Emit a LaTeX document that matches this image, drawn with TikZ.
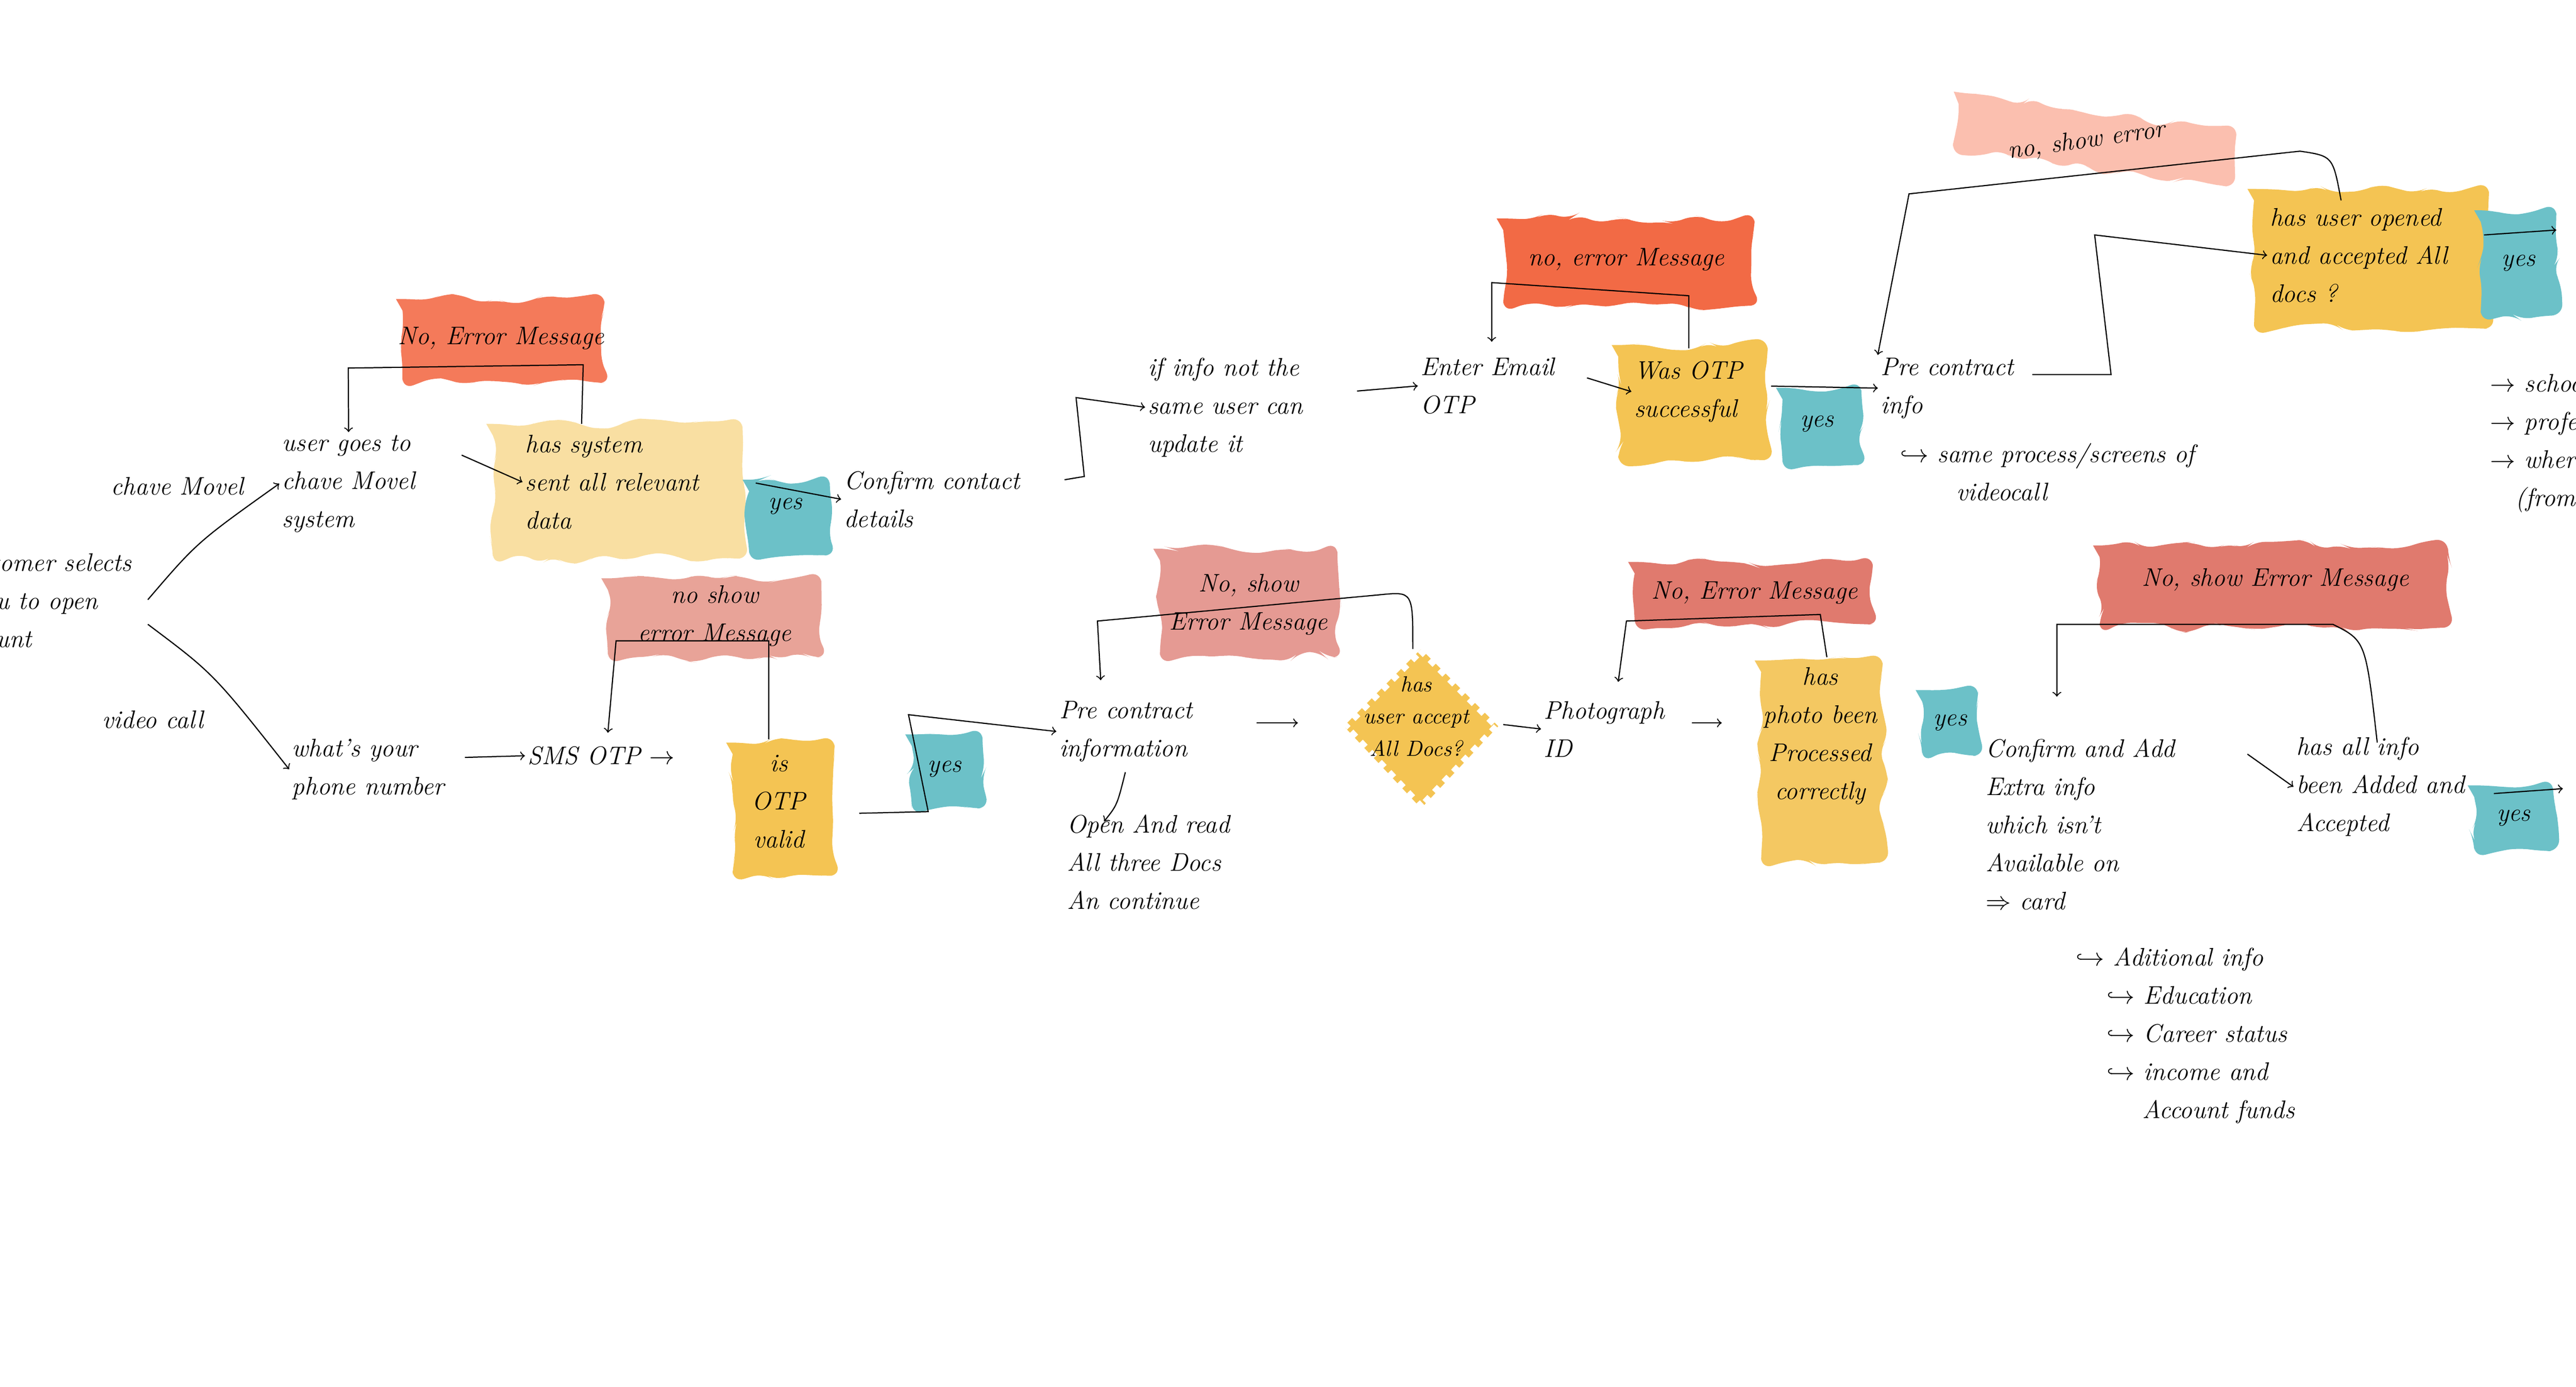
\documentclass[tikz,border=0pt]{standalone}
\usetikzlibrary{decorations.pathmorphing,shapes.geometric}
\definecolor{errOrange}{HTML}{F47A5A}
\definecolor{errRed}{HTML}{F26A45}
\definecolor{errPink}{HTML}{E8A398}
\definecolor{errRose}{HTML}{E59A93}
\definecolor{errCoral}{HTML}{E07A6E}
\definecolor{errPeach}{HTML}{FBBFAF}
\definecolor{askPale}{HTML}{F9DFA2}
\definecolor{askGold}{HTML}{F4C453}
\definecolor{askSand}{HTML}{F4C862}
\definecolor{yesTeal}{HTML}{6CC1C8}
\tikzset{
  txt/.style={align=left,inner sep=1pt,font=\itshape\fontsize{11}{16.5}\selectfont},
  blob/.style={decorate,decoration={random steps,segment length=7pt,amplitude=2.5pt},rounded corners=5pt},
  arr/.style={->,line width=0.5pt}
}
\pgfmathsetseed{7}
\begin{document}
\begin{tikzpicture}[x=0.25mm,y=-0.25mm,line width=0.5pt]
            \useasboundingbox (0,0) rectangle (1568,844);
            % colour patches
            \fill [errOrange,blob] (245,182) rectangle (368,233);
            \fill [askPale,blob] (300,258) rectangle (452,340);
            \fill [yesTeal,blob] (456,292) rectangle (505,338);
            \fill [errRed,blob] (915,133) rectangle (1068,186);
            \fill [askGold,blob] (985,210) rectangle (1076,280);
            \fill [yesTeal,blob] (1085,236) rectangle (1133,283);
            \fill [errPeach,blob,rotate around={-8:(1275,85)}] (1190,68) rectangle (1360,102);
            \fill [askGold,blob] (1372,115) rectangle (1515,200);
            \fill [yesTeal,blob] (1510,128) rectangle (1556,192);
            \fill [errPink,blob] (370,352) rectangle (500,400);
            \fill [askGold,blob] (446,452) rectangle (508,533);
            \fill [yesTeal,blob] (555,447) rectangle (598,492);
            \fill [errRose,blob] (706,334) rectangle (814,400);
            \fill [askGold,draw=white,line width=4pt,dashed] (865,395) -- (912,442) -- (865,492) -- (818,442) -- cycle;
            \fill [errCoral,blob] (995,342) rectangle (1140,380);
            \fill [askSand,blob] (1072,402) rectangle (1146,525);
            \fill [yesTeal,blob] (1170,420) rectangle (1204,460);
            \fill [errCoral,blob] (1278,332) rectangle (1490,382);
            \fill [yesTeal,blob] (1506,478) rectangle (1554,518);
            % top row
            \node [txt,anchor=north west] (start) at (-32,335) {Customer selects\\menu to open\\account};
            \node [txt] (chave) at (108,296) {chave Movel};
            \node [txt,anchor=north west] (userGoes) at (170,263) {user goes to\\chave Movel\\system};
            \node [txt,anchor=north west] (hasSys) at (318,263) {has system\\sent all relevant\\data};
            \node [txt] (err1) at (305,206) {No, Error Message};
            \node [txt] (yes1) at (478,308) {yes};
            \node [txt,anchor=north west] (confirm) at (512,285) {Confirm contact\\details};
            \node [txt,anchor=north west] (ifInfo) at (697,216) {if info not the\\same user can\\update it};
            \node [txt,anchor=north west] (email) at (863,216) {Enter Email\\OTP};
            \node [txt,anchor=north west] (wasOtp) at (993,218) {Was OTP\\successful};
            \node [txt] (err2) at (990,158) {no, error Message};
            \node [txt] (yes2) at (1106,258) {yes};
            \node [txt,anchor=north west] (preInfo) at (1143,216) {Pre contract\\info};
            \node [txt,anchor=north west] (sameProc) at (1155,268) {$\hookrightarrow$ same process/screens of\\\hspace{2.2em}videocall};
            \node [txt,rotate=8] (err3) at (1270,86) {no, show error};
            \node [txt,anchor=north west] (hasOpened) at (1380,125) {has user opened\\and accepted All\\docs ?};
            \node [txt] (yes3) at (1533,160) {yes};
            \node [txt,anchor=north west] (nextList) at (1514,226) {$\to$ school\\$\to$ profession\\$\to$ where\\\hspace{1em}(from};
            % bottom row
            \node [txt] (video) at (93,438) {video call};
            \node [txt,anchor=north west] (phone) at (176,448) {what's your\\phone number};
            \node [txt] (sms) at (366,460) {SMS OTP $\to$};
            \node [txt,align=center] (err4) at (435,375) {no show\\error Message};
            \node [txt,align=center] (otpValid) at (474,488) {is\\OTP\\valid};
            \node [txt] (yes4) at (575,468) {yes};
            \node [txt,anchor=north west] (preInfo2) at (643,425) {Pre contract\\information};
            \node [txt,anchor=north west] (openRead) at (648,494) {Open And read\\All three Docs\\An continue};
            \node [txt,align=center] (err5) at (760,368) {No, show\\Error Message};
            \node [txt,align=center,font=\itshape\fontsize{9.5}{14}\selectfont] (accept) at (862,436) {has\\user accept\\All Docs?};
            \node [txt,anchor=north west] (photo) at (938,425) {Photograph\\ID};
            \node [txt] (err6) at (1068,361) {No, Error Message};
            \node [txt,align=center] (processed) at (1108,448) {has\\photo been\\Processed\\correctly};
            \node [txt] (yes5) at (1187,440) {yes};
            \node [txt,anchor=north west] (addInfo) at (1207,448) {Confirm and Add\\Extra info\\which isn't\\Available on\\$\Rightarrow$ card};
            \node [txt,anchor=north west] (extras) at (1262,575) {$\hookrightarrow$ Aditional info\\\hspace{1.2em}$\hookrightarrow$ Education\\\hspace{1.2em}$\hookrightarrow$ Career status\\\hspace{1.2em}$\hookrightarrow$ income and\\\hspace{2.6em}Account funds};
            \node [txt] (err7) at (1385,353) {No, show Error Message};
            \node [txt,anchor=north west] (allAdded) at (1396,447) {has all info\\been Added and\\Accepted};
            \node [txt] (yes6) at (1530,498) {yes};
            % connectors
            \draw [arr] (90,365) .. controls (120,330) .. (userGoes.west);
            \draw [arr] (90,380) .. controls (130,410) .. (phone.west);
            \draw [arr] (281,277) -- (hasSys.west);
            \draw [arr] (354,258) -- (355,222) -- (212,224) -- (userGoes.north);
            \draw [arr] (460,294) -- (confirm.west);
            \draw [arr] (648,292) -- (660,290) -- (655,242) -- (ifInfo.west);
            \draw [arr] (826,238) -- (email.west);
            \draw [arr] (966,230) -- (wasOtp.west);
            \draw [arr] (1028,212) -- (1028,180) -- (908,172) -- (908,208);
            \draw [arr] (1078,235) -- (preInfo.west);
            \draw [arr] (1237,228) -- (1285,228) -- (1275,143) -- (hasOpened.west);
            \draw [arr] (1425,122) .. controls (1420,95) .. (1400,92) -- (1162,118) -- (preInfo.north west);
            \draw [arr] (1512,143) -- (1556,140);
            \draw [arr] (283,461) -- (sms.west);
            \draw [arr] (468,450) -- (468,390) -- (375,390) -- (370,446);
            \draw [arr] (523,495) -- (565,494) -- (553,435) -- (preInfo2.west);
            \draw [arr] (685,470) .. controls (680,490) .. (672,500);
            \draw [arr] (765,440) -- (790,440);
            \draw [arr] (860,395) .. controls (860,360) .. (840,362) -- (668,378) -- (670,414);
            \draw [arr] (915,441) -- (photo.west);
            \draw [arr] (1030,440) -- (1048,440);
            \draw [arr] (1112,400) -- (1108,374) -- (990,378) -- (985,415);
            \draw [arr] (1447,452) .. controls (1440,390) .. (1420,380) -- (1252,380) -- (1252,424);
            \draw [arr] (1368,459) -- (allAdded.west);
            \draw [arr] (1518,483) -- (1560,480);
        \end{tikzpicture}
\end{document}
